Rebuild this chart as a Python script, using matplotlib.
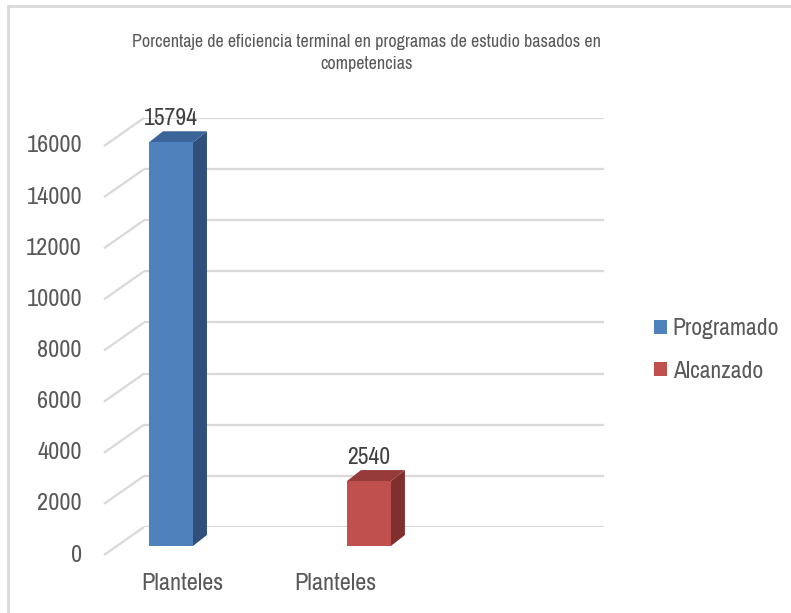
import matplotlib
matplotlib.use("Agg")
import matplotlib.pyplot as plt
from matplotlib.patches import Polygon, Patch
from matplotlib.lines import Line2D

plt.rcParams['font.family'] = ['Archivo Narrow', 'Liberation Sans', 'DejaVu Sans']

# data
titulo = "Porcentaje de eficiencia terminal en programas de estudio basados en\ncompetencias"
series = ["Programado", "Alcanzado"]
valores = [15794, 2540]
categorias = ["Planteles", "Planteles"]
y_ticks = [0, 2000, 4000, 6000, 8000, 10000, 12000, 14000, 16000]

# colores (frente, lado, tapa)
col_frente = ["#4F81BD", "#C0504D"]
col_lado = ["#30507B", "#7F2F2D"]
col_tapa = ["#3B6498", "#963B39"]
gris_txt = "#595959"
gris_grid = "#D9D9D9"

fig = plt.figure(figsize=(7.91, 6.13), dpi=100)
W, H = 791, 613
ax = fig.add_axes([144 / W, (H - 527) / H, (604 - 144) / W, (527 - 118) / H])
xmin, xmax = -0.2728, 2.051
ax.set_xlim(xmin, xmax)
ax.set_ylim(0, 16000)
ax.axis('off')


def px(dx, dy):
    # convierte un desplazamiento en pixeles a unidades de datos
    inv = ax.transData.inverted()
    x0, y0 = inv.transform((0, 0))
    x1, y1 = inv.transform((dx, dy))
    return x1 - x0, y1 - y0


# rejilla: pared del fondo + diagonal del piso lateral
fx, fy = px(-40, -28)
lx, _ = px(-62, 0)
ax.hlines(y_ticks, xmin, xmax, colors=gris_grid, lw=1.6, zorder=1)
for v in y_ticks:
    ax.plot([xmin + fx, xmin], [v + fy, v], color=gris_grid, lw=1.6,
            clip_on=False, zorder=1, solid_capstyle='butt')
    ax.text(xmin + lx, v + fy, str(v), ha='right', va='center',
            fontsize=17.5, color=gris_txt, clip_on=False)

# barras 3D
pos = [0, 1]
w = 0.222
Fx, Fy = px(-27, -19)
Bx, By = px(-13, -8)
_, ty = px(0, 24)
for i, (c, v) in enumerate(zip(pos, valores)):
    l, r = c - w / 2, c + w / 2
    frente = [(l + Fx, 0 + Fy), (r + Fx, 0 + Fy), (r + Fx, v + Fy), (l + Fx, v + Fy)]
    lado = [(r + Fx, 0 + Fy), (r + Bx, 0 + By), (r + Bx, v + By), (r + Fx, v + Fy)]
    tapa = [(l + Fx, v + Fy), (r + Fx, v + Fy), (r + Bx, v + By), (l + Bx, v + By)]
    ax.add_patch(Polygon(lado, closed=True, fc=col_lado[i], ec='none', zorder=3, clip_on=False))
    ax.add_patch(Polygon(tapa, closed=True, fc=col_tapa[i], ec='none', zorder=3, clip_on=False))
    ax.add_patch(Polygon(frente, closed=True, fc=col_frente[i], ec='none', zorder=4, clip_on=False))
    ax.text(c + Fx, v + Fy + ty, str(v), ha='center', va='center',
            fontsize=17, color='#404040', clip_on=False, zorder=5)

# etiquetas de categoria
cat_x = [0.124, 0.896]
_, cy = px(0, -28)
for x, t in zip(cat_x, categorias):
    ax.text(x + fx, fy + cy, t, ha='center', va='center', fontsize=17.5,
            color=gris_txt, clip_on=False)

# titulo
fig.text(367 / W, 1 - 53 / H, titulo, ha='center', va='center', fontsize=13,
         color=gris_txt, linespacing=1.45)

# leyenda
handles = [Patch(fc=col_frente[i], ec='none') for i in range(len(series))]
fig.legend(handles, series, loc='center left', bbox_to_anchor=(642 / W, 1 - 350 / H),
           frameon=False, fontsize=17, labelcolor=gris_txt, handlelength=0.55,
           handleheight=0.55, handletextpad=0.25, labelspacing=0.9, borderpad=0)

# marco
fig.add_artist(Line2D([8 / W, 1], [1 - 6 / H, 1 - 6 / H], color=gris_grid, lw=2))
fig.add_artist(Line2D([8 / W, 8 / W], [0, 1 - 6 / H], color=gris_grid, lw=2))

fig.savefig("out.png", dpi=100)
